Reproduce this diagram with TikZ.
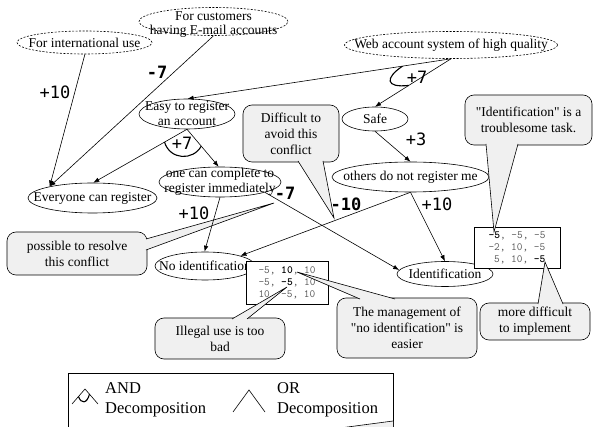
\documentclass[tikz,border=0pt]{standalone}
\usepackage{fontspec}
\setmainfont{Liberation Serif}[Ligatures=TeXOff]
\newfontfamily\labfont{DejaVu Sans Mono}
\usetikzlibrary{shapes.geometric,arrows.meta,calc}
\definecolor{cfill}{gray}{0.94}
\definecolor{tgray}{gray}{0.35}
\newcommand\callptr[3]{%
  \fill[cfill] #1 -- #2 -- #3 -- cycle;
  \draw[line width=0.6pt] #1 -- #2 -- #3;}
\begin{document}
\begin{tikzpicture}[x=1pt,y=-1pt,
  goal/.style={ellipse, draw, inner sep=-40pt, align=center, font=\fontsize{13.5}{15}\selectfont, line width=0.6pt},
  soft/.style={goal, dash pattern=on 2pt off 1.5pt},
  plaintxt/.style={align=center, inner sep=0pt, font=\fontsize{13.5}{14}\selectfont},
  edge/.style={-{Latex[length=6pt,width=4.5pt]}, line width=0.6pt},
  andarc/.style={line width=1.1pt},
  lab/.style={font=\labfont\fontsize{17}{17}\selectfont, inner sep=0pt},
  blab/.style={font=\labfont\bfseries\fontsize{17}{17}\selectfont, inner sep=0pt},
  cbox/.style={draw, fill=cfill, rounded corners=9pt, align=center, font=\fontsize{13.5}{16}\selectfont, inner sep=0pt, line width=0.6pt},
  tbl/.style={draw, fill=white, align=left, inner sep=0pt, font=\ttfamily\fontsize{11}{12}\selectfont, text=tgray, line width=0.6pt},
  legtxt/.style={font=\fontsize{16.5}{20}\selectfont, inner sep=0pt, anchor=base west},
]
\useasboundingbox (0,0) rectangle (594,427);

% goals
\node[soft, minimum width=135, minimum height=23] (intl) at (84.5,42.5) {For international use};
\node[soft, minimum width=149, minimum height=28] (cust) at (213.5,21.5) {};
\node[plaintxt] (custt) at (213.5,24.5) {For customers\\having E-mail accounts};
\node[soft, minimum width=213, minimum height=27] (web) at (451,45) {Web account system of high quality};
\node[goal, minimum width=96, minimum height=30] (easy) at (187,114) {Easy to register\\an account};
\node[goal, minimum width=66, minimum height=24] (safe) at (375,119) {Safe};
\node[goal, minimum width=129, minimum height=30] (ever) at (92.5,198) {Everyone can register};
\node[goal, minimum width=122, minimum height=30] (comp) at (220,182) {one can complete to\\register immediately};
\node[goal, minimum width=157, minimum height=30] (others) at (410.5,177) {others do not register me};
\node[goal, minimum width=100, minimum height=28] (noid) at (205,266) {No identification};
\node[goal, minimum width=96, minimum height=25] (ident) at (445,274) {Identification};

% tables
\node[tbl, minimum width=82, minimum height=43] (t1) at (287,282.5)
  {-5, {\bfseries\color{black}10}, 10\\-5, {\bfseries\color{black}-5}, 10\\10, -5, 10};
\node[tbl, minimum width=86, minimum height=41] (t2) at (517,247.5)
  {{\bfseries\color{black}-5}, -5, -5\\-2, 10, -5\\\phantom{-}5, 10, {\bfseries\color{black}-5}};

% callouts
\node[cbox, minimum width=96, minimum height=57] (c1) at (291,133.5) {Difficult to\\avoid this\\conflict};
\coordinate (c1tip) at (334,218);
\callptr{(298,161)}{(c1tip)}{(323,161)}
\node[cbox, minimum width=127, minimum height=50] (c2) at (528.5,120) {"Identification" is a\\troublesome task.};
\coordinate (c2tip) at (494,232);
\callptr{(486,144)}{(c2tip)}{(518,144)}
\node[cbox, minimum width=140, minimum height=43] (c3) at (77,253.5) {possible to resolve\\this conflict};
\coordinate (c3tip) at (274,203);
\callptr{(146,239)}{(c3tip)}{(146,250)}
\node[cbox, minimum width=130, minimum height=41] (c4) at (220,338.5) {Illegal use is too\\bad};
\coordinate (c4tip) at (287,287);
\callptr{(232,319)}{(c4tip)}{(247,319)}
\node[cbox, minimum width=140, minimum height=60] (c5) at (407,328) {The management of\\"no identification" is\\easier};
\coordinate (c5tip) at (297,272);
\callptr{(360,299)}{(c5tip)}{(395,299)}
\node[cbox, minimum width=110, minimum height=37] (c6) at (535,321.5) {more difficult\\to implement};
\coordinate (c6tip) at (545,262);
\callptr{(538,304)}{(c6tip)}{(563,304)}

% edges
\draw[edge] (intl.-88) -- (ever.165);
\draw[edge] (cust.-90) -- (ever.165);
\draw[edge] (web.south) -- (easy.88);
\draw[edge] (web.south) -- (safe.north);
\draw[edge] (easy.south) -- (ever.87);
\draw[edge] (easy.south) -- (comp.95);
\draw[edge] (safe.south) -- (others.north);
\draw[edge] (comp.south) -- (noid.92);
\draw[edge] (comp.-13) -- (ident.175);
\draw[edge] (others.south) -- (noid.16);
\draw[edge] (others.south) -- (ident.north);

% AND decompositions
\draw[andarc] ($(web.south)!0.184!(easy.88)$) .. controls (385,78) and (385,88) .. ($(web.south)!0.556!(safe.north)$);
\draw[andarc] ($(easy.south)!0.24!(ever.87)$) .. controls (170,160) and (193,161) .. ($(easy.south)!0.45!(comp.95)$);

% labels
\node[lab] (l1) at (55,92) {+10};
\node[blab] (l2) at (157,72) {-7};
\node[lab] (l3) at (417,77) {+7};
\node[lab] (l4) at (182,143) {+7};
\node[lab] (l5) at (416,139) {+3};
\node[lab] (l6) at (194,213) {+10};
\node[blab] (l7) at (285,193) {-7};
\node[blab] (l8) at (346,204) {-10};
\node[lab] (l9) at (437,204) {+10};

% legend
\node[draw, fill=white, line width=0.6pt, minimum width=325, minimum height=70, anchor=north west, inner sep=0pt] (leg) at (68,373) {};
\fill[cfill] (393,421) -- (340,428) -- (393,428) -- cycle;
\draw[line width=0.6pt] (393,421) -- (340,428);
\draw[line width=0.6pt] (72,404) -- (85,389) -- (98,404);
\draw[andarc] (78.5,396.5) .. controls (81,404) and (87,404) .. (89.5,394);
\draw[line width=0.6pt] (233,412) -- (249,390) -- (265,412);
\node[legtxt] (andt) at (105,393) {AND};
\node[legtxt] (andd) at (105,413) {Decomposition};
\node[legtxt] (ort) at (277,393) {OR};
\node[legtxt] (ord) at (277,413) {Decomposition};
\end{tikzpicture}
\end{document}
